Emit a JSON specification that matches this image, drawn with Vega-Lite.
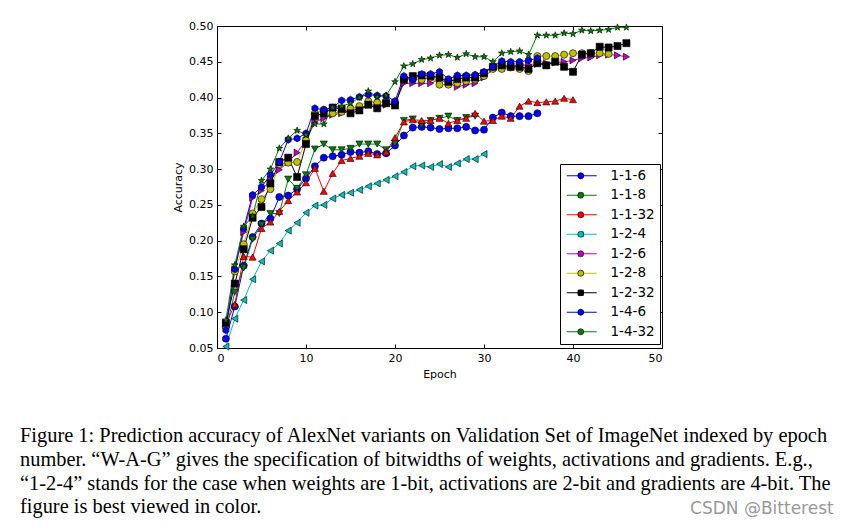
{
"$schema": "https://vega.github.io/schema/vega-lite/v6.json",
"width": 445, "height": 322,
"autosize": {"type": "none"},
"padding": {"left": 217, "top": 26, "right": 196, "bottom": 178},
"background": "white",
"title": {
 "text": ["Figure 1: Prediction accuracy of AlexNet variants on Validation Set of ImageNet indexed by epoch", "number. \u201cW-A-G\u201d gives the specification of bitwidths of weights, activations and gradients. E.g.,", "\u201c1-2-4\u201d stands for the case when weights are 1-bit, activations are 2-bit and gradients are 4-bit. The", "figure is best viewed in color."],
 "subtitle": "\u200b\u00a0\u00a0\u00a0\u00a0\u00a0\u00a0\u00a0\u00a0\u00a0\u00a0\u00a0\u00a0\u00a0\u00a0\u00a0\u00a0\u00a0\u00a0\u00a0\u00a0\u00a0\u00a0\u00a0\u00a0\u00a0\u00a0\u00a0\u00a0\u00a0\u00a0\u00a0\u00a0\u00a0\u00a0\u00a0\u00a0\u00a0\u00a0\u00a0\u00a0\u00a0\u00a0\u00a0\u00a0\u00a0\u00a0\u00a0\u00a0\u00a0\u00a0\u00a0\u00a0\u00a0\u00a0\u00a0\u00a0\u00a0\u00a0\u00a0\u00a0\u00a0\u00a0\u00a0\u00a0\u00a0\u00a0\u00a0\u00a0\u00a0\u00a0\u00a0\u00a0\u00a0\u00a0\u00a0\u00a0\u00a0\u00a0\u00a0\u00a0\u00a0\u00a0\u00a0\u00a0\u00a0\u00a0\u00a0\u00a0\u00a0\u00a0\u00a0\u00a0\u00a0\u00a0\u00a0\u00a0\u00a0\u00a0\u00a0\u00a0\u00a0\u00a0\u00a0\u00a0\u00a0\u00a0\u00a0\u00a0\u00a0\u00a0\u00a0\u00a0\u00a0\u00a0\u00a0\u00a0\u00a0\u00a0\u00a0\u00a0\u00a0\u00a0\u00a0\u00a0CSDN @Bitterest",
 "orient": "bottom", "anchor": "start", "frame": "group",
 "dx": -197, "offset": 47,
 "font": "Liberation Serif", "fontSize": 20.4, "fontWeight": "normal", "color": "black", "lineHeight": 23.8,
 "subtitleFont": "DejaVu Sans", "subtitleFontSize": 17, "subtitleColor": "#999999", "subtitlePadding": -17
},
"config": {
 "view": {"stroke": "black", "strokeWidth": 1},
 "axis": {"domain": false, "grid": false, "tickColor": "black", "tickSize": -4, "tickWidth": 1,
  "labelFont": "DejaVu Sans", "labelFontSize": 11, "labelColor": "black", "labelPadding": 8,
  "titleFont": "DejaVu Sans", "titleFontSize": 11, "titleFontWeight": "normal", "titleColor": "black"}
},
"datasets": {"d": [
{"s":"1-1-6","e":1,"a":0.063},{"s":"1-1-6","e":2,"a":0.108},{"s":"1-1-6","e":3,"a":0.165},{"s":"1-1-6","e":4,"a":0.205},{"s":"1-1-6","e":5,"a":0.224},{"s":"1-1-6","e":6,"a":0.231},{"s":"1-1-6","e":7,"a":0.261},{"s":"1-1-6","e":8,"a":0.263},{"s":"1-1-6","e":9,"a":0.272},{"s":"1-1-6","e":10,"a":0.287},{"s":"1-1-6","e":11,"a":0.304},{"s":"1-1-6","e":12,"a":0.316},{"s":"1-1-6","e":13,"a":0.318},{"s":"1-1-6","e":14,"a":0.320},{"s":"1-1-6","e":15,"a":0.324},{"s":"1-1-6","e":16,"a":0.323},{"s":"1-1-6","e":17,"a":0.325},{"s":"1-1-6","e":18,"a":0.321},{"s":"1-1-6","e":19,"a":0.322},{"s":"1-1-6","e":20,"a":0.333},{"s":"1-1-6","e":21,"a":0.347},{"s":"1-1-6","e":22,"a":0.358},{"s":"1-1-6","e":23,"a":0.359},{"s":"1-1-6","e":24,"a":0.358},{"s":"1-1-6","e":25,"a":0.356},{"s":"1-1-6","e":26,"a":0.357},{"s":"1-1-6","e":27,"a":0.357},{"s":"1-1-6","e":28,"a":0.359},{"s":"1-1-6","e":29,"a":0.354},{"s":"1-1-6","e":30,"a":0.355},{"s":"1-1-6","e":31,"a":0.372},{"s":"1-1-6","e":32,"a":0.379},{"s":"1-1-6","e":33,"a":0.374},{"s":"1-1-6","e":34,"a":0.374},{"s":"1-1-6","e":35,"a":0.374},{"s":"1-1-6","e":36,"a":0.378},
{"s":"1-1-8","e":1,"a":0.075},{"s":"1-1-8","e":2,"a":0.128},{"s":"1-1-8","e":3,"a":0.162},{"s":"1-1-8","e":4,"a":0.202},{"s":"1-1-8","e":5,"a":0.222},{"s":"1-1-8","e":6,"a":0.238},{"s":"1-1-8","e":7,"a":0.238},{"s":"1-1-8","e":8,"a":0.286},{"s":"1-1-8","e":9,"a":0.273},{"s":"1-1-8","e":10,"a":0.292},{"s":"1-1-8","e":11,"a":0.328},{"s":"1-1-8","e":12,"a":0.335},{"s":"1-1-8","e":13,"a":0.327},{"s":"1-1-8","e":14,"a":0.327},{"s":"1-1-8","e":15,"a":0.329},{"s":"1-1-8","e":16,"a":0.335},{"s":"1-1-8","e":17,"a":0.335},{"s":"1-1-8","e":18,"a":0.335},{"s":"1-1-8","e":19,"a":0.327},{"s":"1-1-8","e":20,"a":0.336},{"s":"1-1-8","e":21,"a":0.368},{"s":"1-1-8","e":22,"a":0.370},{"s":"1-1-8","e":23,"a":0.362},{"s":"1-1-8","e":24,"a":0.368},{"s":"1-1-8","e":25,"a":0.371},{"s":"1-1-8","e":26,"a":0.374},{"s":"1-1-8","e":27,"a":0.368},{"s":"1-1-8","e":28,"a":0.372},{"s":"1-1-8","e":29,"a":0.374},
{"s":"1-1-32","e":1,"a":0.083},{"s":"1-1-32","e":2,"a":0.111},{"s":"1-1-32","e":3,"a":0.178},{"s":"1-1-32","e":4,"a":0.177},{"s":"1-1-32","e":5,"a":0.217},{"s":"1-1-32","e":6,"a":0.226},{"s":"1-1-32","e":7,"a":0.241},{"s":"1-1-32","e":8,"a":0.256},{"s":"1-1-32","e":9,"a":0.268},{"s":"1-1-32","e":10,"a":0.281},{"s":"1-1-32","e":11,"a":0.301},{"s":"1-1-32","e":12,"a":0.269},{"s":"1-1-32","e":13,"a":0.294},{"s":"1-1-32","e":14,"a":0.312},{"s":"1-1-32","e":15,"a":0.315},{"s":"1-1-32","e":16,"a":0.318},{"s":"1-1-32","e":17,"a":0.322},{"s":"1-1-32","e":18,"a":0.320},{"s":"1-1-32","e":19,"a":0.324},{"s":"1-1-32","e":20,"a":0.344},{"s":"1-1-32","e":21,"a":0.366},{"s":"1-1-32","e":22,"a":0.369},{"s":"1-1-32","e":23,"a":0.368},{"s":"1-1-32","e":24,"a":0.368},{"s":"1-1-32","e":25,"a":0.371},{"s":"1-1-32","e":26,"a":0.364},{"s":"1-1-32","e":27,"a":0.368},{"s":"1-1-32","e":28,"a":0.371},{"s":"1-1-32","e":29,"a":0.378},{"s":"1-1-32","e":30,"a":0.367},{"s":"1-1-32","e":31,"a":0.368},{"s":"1-1-32","e":32,"a":0.374},{"s":"1-1-32","e":33,"a":0.371},{"s":"1-1-32","e":34,"a":0.388},{"s":"1-1-32","e":35,"a":0.395},{"s":"1-1-32","e":36,"a":0.393},{"s":"1-1-32","e":37,"a":0.394},{"s":"1-1-32","e":38,"a":0.395},{"s":"1-1-32","e":39,"a":0.399},{"s":"1-1-32","e":40,"a":0.397},
{"s":"1-2-4","e":1,"a":0.052},{"s":"1-2-4","e":2,"a":0.091},{"s":"1-2-4","e":3,"a":0.117},{"s":"1-2-4","e":4,"a":0.146},{"s":"1-2-4","e":5,"a":0.171},{"s":"1-2-4","e":6,"a":0.186},{"s":"1-2-4","e":7,"a":0.196},{"s":"1-2-4","e":8,"a":0.214},{"s":"1-2-4","e":9,"a":0.225},{"s":"1-2-4","e":10,"a":0.239},{"s":"1-2-4","e":11,"a":0.249},{"s":"1-2-4","e":12,"a":0.250},{"s":"1-2-4","e":13,"a":0.259},{"s":"1-2-4","e":14,"a":0.264},{"s":"1-2-4","e":15,"a":0.267},{"s":"1-2-4","e":16,"a":0.271},{"s":"1-2-4","e":17,"a":0.276},{"s":"1-2-4","e":18,"a":0.280},{"s":"1-2-4","e":19,"a":0.285},{"s":"1-2-4","e":20,"a":0.290},{"s":"1-2-4","e":21,"a":0.296},{"s":"1-2-4","e":22,"a":0.304},{"s":"1-2-4","e":23,"a":0.305},{"s":"1-2-4","e":24,"a":0.303},{"s":"1-2-4","e":25,"a":0.307},{"s":"1-2-4","e":26,"a":0.303},{"s":"1-2-4","e":27,"a":0.308},{"s":"1-2-4","e":28,"a":0.314},{"s":"1-2-4","e":29,"a":0.314},{"s":"1-2-4","e":30,"a":0.321},
{"s":"1-2-6","e":1,"a":0.085},{"s":"1-2-6","e":2,"a":0.160},{"s":"1-2-6","e":3,"a":0.212},{"s":"1-2-6","e":4,"a":0.260},{"s":"1-2-6","e":5,"a":0.270},{"s":"1-2-6","e":6,"a":0.285},{"s":"1-2-6","e":7,"a":0.299},{"s":"1-2-6","e":8,"a":0.310},{"s":"1-2-6","e":9,"a":0.323},{"s":"1-2-6","e":10,"a":0.340},{"s":"1-2-6","e":11,"a":0.366},{"s":"1-2-6","e":12,"a":0.371},{"s":"1-2-6","e":13,"a":0.376},{"s":"1-2-6","e":14,"a":0.378},{"s":"1-2-6","e":15,"a":0.381},{"s":"1-2-6","e":16,"a":0.385},{"s":"1-2-6","e":17,"a":0.390},{"s":"1-2-6","e":18,"a":0.389},{"s":"1-2-6","e":19,"a":0.390},{"s":"1-2-6","e":20,"a":0.392},{"s":"1-2-6","e":21,"a":0.420},{"s":"1-2-6","e":22,"a":0.420},{"s":"1-2-6","e":23,"a":0.420},{"s":"1-2-6","e":24,"a":0.420},{"s":"1-2-6","e":25,"a":0.425},{"s":"1-2-6","e":26,"a":0.420},{"s":"1-2-6","e":27,"a":0.415},{"s":"1-2-6","e":28,"a":0.418},{"s":"1-2-6","e":29,"a":0.420},{"s":"1-2-6","e":30,"a":0.428},{"s":"1-2-6","e":31,"a":0.440},{"s":"1-2-6","e":32,"a":0.442},{"s":"1-2-6","e":33,"a":0.444},{"s":"1-2-6","e":34,"a":0.445},{"s":"1-2-6","e":35,"a":0.446},{"s":"1-2-6","e":36,"a":0.447},{"s":"1-2-6","e":37,"a":0.448},{"s":"1-2-6","e":38,"a":0.449},{"s":"1-2-6","e":39,"a":0.450},{"s":"1-2-6","e":40,"a":0.452},{"s":"1-2-6","e":41,"a":0.455},{"s":"1-2-6","e":42,"a":0.456},{"s":"1-2-6","e":43,"a":0.459},{"s":"1-2-6","e":44,"a":0.460},{"s":"1-2-6","e":45,"a":0.459},{"s":"1-2-6","e":46,"a":0.457},
{"s":"1-2-8","e":1,"a":0.080},{"s":"1-2-8","e":2,"a":0.157},{"s":"1-2-8","e":3,"a":0.195},{"s":"1-2-8","e":4,"a":0.238},{"s":"1-2-8","e":5,"a":0.258},{"s":"1-2-8","e":6,"a":0.272},{"s":"1-2-8","e":7,"a":0.307},{"s":"1-2-8","e":8,"a":0.309},{"s":"1-2-8","e":9,"a":0.310},{"s":"1-2-8","e":10,"a":0.340},{"s":"1-2-8","e":11,"a":0.378},{"s":"1-2-8","e":12,"a":0.383},{"s":"1-2-8","e":13,"a":0.378},{"s":"1-2-8","e":14,"a":0.380},{"s":"1-2-8","e":15,"a":0.385},{"s":"1-2-8","e":16,"a":0.388},{"s":"1-2-8","e":17,"a":0.395},{"s":"1-2-8","e":18,"a":0.393},{"s":"1-2-8","e":19,"a":0.395},{"s":"1-2-8","e":20,"a":0.393},{"s":"1-2-8","e":21,"a":0.425},{"s":"1-2-8","e":22,"a":0.425},{"s":"1-2-8","e":23,"a":0.425},{"s":"1-2-8","e":24,"a":0.428},{"s":"1-2-8","e":25,"a":0.418},{"s":"1-2-8","e":26,"a":0.418},{"s":"1-2-8","e":27,"a":0.420},{"s":"1-2-8","e":28,"a":0.423},{"s":"1-2-8","e":29,"a":0.425},{"s":"1-2-8","e":30,"a":0.430},{"s":"1-2-8","e":31,"a":0.440},{"s":"1-2-8","e":32,"a":0.440},{"s":"1-2-8","e":33,"a":0.442},{"s":"1-2-8","e":34,"a":0.440},{"s":"1-2-8","e":35,"a":0.437},{"s":"1-2-8","e":36,"a":0.458},{"s":"1-2-8","e":37,"a":0.458},{"s":"1-2-8","e":38,"a":0.458},{"s":"1-2-8","e":39,"a":0.460},{"s":"1-2-8","e":40,"a":0.462},{"s":"1-2-8","e":41,"a":0.462},{"s":"1-2-8","e":42,"a":0.462},{"s":"1-2-8","e":43,"a":0.462},{"s":"1-2-8","e":44,"a":0.461},
{"s":"1-2-32","e":1,"a":0.085},{"s":"1-2-32","e":2,"a":0.140},{"s":"1-2-32","e":3,"a":0.188},{"s":"1-2-32","e":4,"a":0.232},{"s":"1-2-32","e":5,"a":0.247},{"s":"1-2-32","e":6,"a":0.280},{"s":"1-2-32","e":7,"a":0.310},{"s":"1-2-32","e":8,"a":0.316},{"s":"1-2-32","e":9,"a":0.289},{"s":"1-2-32","e":10,"a":0.335},{"s":"1-2-32","e":11,"a":0.374},{"s":"1-2-32","e":12,"a":0.378},{"s":"1-2-32","e":13,"a":0.386},{"s":"1-2-32","e":14,"a":0.384},{"s":"1-2-32","e":15,"a":0.378},{"s":"1-2-32","e":16,"a":0.382},{"s":"1-2-32","e":17,"a":0.390},{"s":"1-2-32","e":18,"a":0.385},{"s":"1-2-32","e":19,"a":0.392},{"s":"1-2-32","e":20,"a":0.389},{"s":"1-2-32","e":21,"a":0.425},{"s":"1-2-32","e":22,"a":0.430},{"s":"1-2-32","e":23,"a":0.431},{"s":"1-2-32","e":24,"a":0.430},{"s":"1-2-32","e":25,"a":0.428},{"s":"1-2-32","e":26,"a":0.422},{"s":"1-2-32","e":27,"a":0.426},{"s":"1-2-32","e":28,"a":0.428},{"s":"1-2-32","e":29,"a":0.428},{"s":"1-2-32","e":30,"a":0.434},{"s":"1-2-32","e":31,"a":0.443},{"s":"1-2-32","e":32,"a":0.445},{"s":"1-2-32","e":33,"a":0.443},{"s":"1-2-32","e":34,"a":0.443},{"s":"1-2-32","e":35,"a":0.440},{"s":"1-2-32","e":36,"a":0.448},{"s":"1-2-32","e":37,"a":0.445},{"s":"1-2-32","e":38,"a":0.450},{"s":"1-2-32","e":39,"a":0.443},{"s":"1-2-32","e":40,"a":0.436},{"s":"1-2-32","e":41,"a":0.460},{"s":"1-2-32","e":42,"a":0.462},{"s":"1-2-32","e":43,"a":0.471},{"s":"1-2-32","e":44,"a":0.470},{"s":"1-2-32","e":45,"a":0.472},{"s":"1-2-32","e":46,"a":0.476},
{"s":"1-4-6","e":1,"a":0.075},{"s":"1-4-6","e":2,"a":0.160},{"s":"1-4-6","e":3,"a":0.217},{"s":"1-4-6","e":4,"a":0.264},{"s":"1-4-6","e":5,"a":0.275},{"s":"1-4-6","e":6,"a":0.292},{"s":"1-4-6","e":7,"a":0.310},{"s":"1-4-6","e":8,"a":0.341},{"s":"1-4-6","e":9,"a":0.343},{"s":"1-4-6","e":10,"a":0.350},{"s":"1-4-6","e":11,"a":0.385},{"s":"1-4-6","e":12,"a":0.383},{"s":"1-4-6","e":13,"a":0.386},{"s":"1-4-6","e":14,"a":0.396},{"s":"1-4-6","e":15,"a":0.397},{"s":"1-4-6","e":16,"a":0.401},{"s":"1-4-6","e":17,"a":0.404},{"s":"1-4-6","e":18,"a":0.403},{"s":"1-4-6","e":19,"a":0.402},{"s":"1-4-6","e":20,"a":0.395},{"s":"1-4-6","e":21,"a":0.430},{"s":"1-4-6","e":22,"a":0.425},{"s":"1-4-6","e":23,"a":0.433},{"s":"1-4-6","e":24,"a":0.433},{"s":"1-4-6","e":25,"a":0.436},{"s":"1-4-6","e":26,"a":0.426},{"s":"1-4-6","e":27,"a":0.431},{"s":"1-4-6","e":28,"a":0.431},{"s":"1-4-6","e":29,"a":0.432},{"s":"1-4-6","e":30,"a":0.436},{"s":"1-4-6","e":31,"a":0.443},{"s":"1-4-6","e":32,"a":0.451},{"s":"1-4-6","e":33,"a":0.450},{"s":"1-4-6","e":34,"a":0.450},{"s":"1-4-6","e":35,"a":0.452},{"s":"1-4-6","e":36,"a":0.455},
{"s":"1-4-32","e":1,"a":0.089},{"s":"1-4-32","e":2,"a":0.166},{"s":"1-4-32","e":3,"a":0.220},{"s":"1-4-32","e":4,"a":0.234},{"s":"1-4-32","e":5,"a":0.284},{"s":"1-4-32","e":6,"a":0.300},{"s":"1-4-32","e":7,"a":0.329},{"s":"1-4-32","e":8,"a":0.343},{"s":"1-4-32","e":9,"a":0.354},{"s":"1-4-32","e":10,"a":0.348},{"s":"1-4-32","e":11,"a":0.363},{"s":"1-4-32","e":12,"a":0.363},{"s":"1-4-32","e":13,"a":0.386},{"s":"1-4-32","e":14,"a":0.388},{"s":"1-4-32","e":15,"a":0.392},{"s":"1-4-32","e":16,"a":0.400},{"s":"1-4-32","e":17,"a":0.409},{"s":"1-4-32","e":18,"a":0.401},{"s":"1-4-32","e":19,"a":0.403},{"s":"1-4-32","e":20,"a":0.422},{"s":"1-4-32","e":21,"a":0.444},{"s":"1-4-32","e":22,"a":0.447},{"s":"1-4-32","e":23,"a":0.453},{"s":"1-4-32","e":24,"a":0.455},{"s":"1-4-32","e":25,"a":0.459},{"s":"1-4-32","e":26,"a":0.460},{"s":"1-4-32","e":27,"a":0.456},{"s":"1-4-32","e":28,"a":0.461},{"s":"1-4-32","e":29,"a":0.457},{"s":"1-4-32","e":30,"a":0.457},{"s":"1-4-32","e":31,"a":0.450},{"s":"1-4-32","e":32,"a":0.462},{"s":"1-4-32","e":33,"a":0.464},{"s":"1-4-32","e":34,"a":0.465},{"s":"1-4-32","e":35,"a":0.460},{"s":"1-4-32","e":36,"a":0.487},{"s":"1-4-32","e":37,"a":0.487},{"s":"1-4-32","e":38,"a":0.487},{"s":"1-4-32","e":39,"a":0.490},{"s":"1-4-32","e":40,"a":0.489},{"s":"1-4-32","e":41,"a":0.494},{"s":"1-4-32","e":42,"a":0.493},{"s":"1-4-32","e":43,"a":0.494},{"s":"1-4-32","e":44,"a":0.495},{"s":"1-4-32","e":45,"a":0.498},{"s":"1-4-32","e":46,"a":0.498}
]},
"data": {"name": "d"},
"layer": [
 {"mark": {"type": "line", "strokeWidth": 1},
  "encoding": {
   "x": {"field": "e", "type": "quantitative", "scale": {"domain": [0, 50], "nice": false}, "axis": {"values": [0, 10, 20, 30, 40, 50], "title": "Epoch", "titlePadding": 5}},
   "y": {"field": "a", "type": "quantitative", "scale": {"domain": [0.05, 0.5], "nice": false, "zero": false}, "axis": {"values": [0.05, 0.1, 0.15, 0.2, 0.25, 0.3, 0.35, 0.4, 0.45, 0.5], "format": ".2f", "title": "Accuracy", "titlePadding": 5}},
   "stroke": {"field": "s", "type": "nominal",
    "scale": {"domain": ["1-1-6", "1-1-8", "1-1-32", "1-2-4", "1-2-6", "1-2-8", "1-2-32", "1-4-6", "1-4-32"], "range": ["#0000ff", "#008000", "#ff0000", "#00bfbf", "#bf00bf", "#bfbf00", "#000000", "#0000ff", "#008000"]},
    "legend": {"orient": "none", "legendX": 343, "legendY": 138, "title": null, "symbolType": "M-1,0L5,0", "symbolSize": 100, "symbolStrokeWidth": 1, "labelFont": "DejaVu Sans", "labelFontSize": 13.5, "labelColor": "black", "labelOffset": 32, "rowPadding": 4.5, "padding": 5, "strokeColor": "black", "fillColor": "white"}},
   "order": {"field": "e", "type": "quantitative"}
  }},
 {"mark": {"type": "point", "filled": true, "size": 50, "stroke": "black", "strokeWidth": 0.6, "opacity": 1},
  "encoding": {
   "x": {"field": "e", "type": "quantitative", "scale": {"domain": [0, 50], "nice": false}, "axis": {"orient": "top", "values": [0, 10, 20, 30, 40, 50], "labels": false, "title": null}},
   "y": {"field": "a", "type": "quantitative", "scale": {"domain": [0.05, 0.5], "nice": false, "zero": false}, "axis": {"orient": "right", "values": [0.05, 0.1, 0.15, 0.2, 0.25, 0.3, 0.35, 0.4, 0.45, 0.5], "labels": false, "title": null}},
   "fill": {"field": "s", "type": "nominal", "sort": ["1-1-6", "1-1-8", "1-1-32", "1-2-4", "1-2-6", "1-2-8", "1-2-32", "1-4-6", "1-4-32"],
    "scale": {"range": ["#0000ff", "#008000", "#ff0000", "#00bfbf", "#bf00bf", "#bfbf00", "#000000", "#0000ff", "#008000"]},
    "legend": {"orient": "none", "legendX": 352, "legendY": 138, "title": null, "symbolSize": 36, "symbolStrokeColor": "black", "symbolStrokeWidth": 0.6, "labelFont": "DejaVu Sans", "labelFontSize": 13.5, "labelOpacity": 0, "rowPadding": 4.5, "padding": 5}},
   "shape": {"field": "s", "type": "nominal", "sort": ["1-1-6", "1-1-8", "1-1-32", "1-2-4", "1-2-6", "1-2-8", "1-2-32", "1-4-6", "1-4-32"],
    "scale": {"range": ["circle", "triangle-down", "triangle-up", "triangle-left", "triangle-right", "circle", "square", "M0,-1L0.866,-0.5L0.866,0.5L0,1L-0.866,0.5L-0.866,-0.5Z", "M0,-1L0.235,-0.324L0.951,-0.309L0.38,0.124L0.588,0.809L0,0.4L-0.588,0.809L-0.38,0.124L-0.951,-0.309L-0.235,-0.324Z"]},
    "legend": {"orient": "none", "legendX": 352, "legendY": 138, "title": null, "symbolSize": 36, "symbolStrokeColor": "black", "symbolStrokeWidth": 0.6, "labelFont": "DejaVu Sans", "labelFontSize": 13.5, "labelOpacity": 0, "rowPadding": 4.5, "padding": 5}}
  }}
],
"resolve": {"axis": {"x": "independent", "y": "independent"}}
}
